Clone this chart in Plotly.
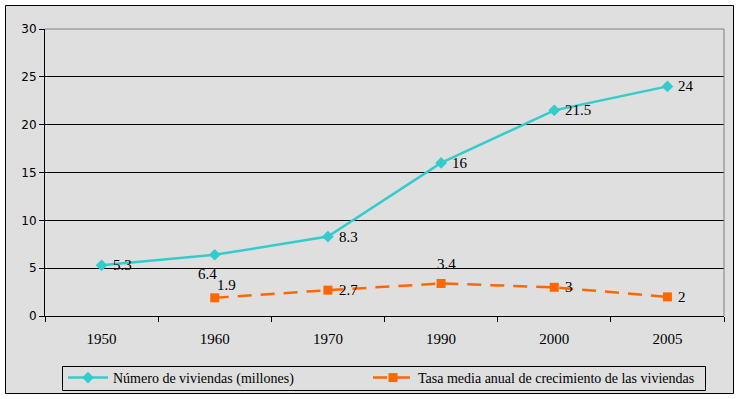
import plotly.graph_objects as go

years = ["1950", "1960", "1970", "1990", "2000", "2005"]
viviendas = [5.3, 6.4, 8.3, 16, 21.5, 24]
tasa = [None, 1.9, 2.7, 3.4, 3, 2]
y_ticks = [0, 5, 10, 15, 20, 25, 30]
name_v = "Número de viviendas (millones)"
name_t = "Tasa media anual de crecimiento de las viviendas"

# label placement (style): (xanchor, xshift, yshift) in px relative to the point
off_v = [("left", 9, 0), ("center", -7, -19), ("left", 9, 0),
         ("left", 9, 0), ("left", 9, 0), ("left", 9, 0)]
off_t = [None, ("left", 0, 13), ("left", 9, 0), ("center", 5, 19),
         ("left", 9, 0), ("left", 9, 0)]

W, H = 739, 399
L, R, T, B = 45, 724, 29, 316
pw, ph = R - L, B - T

def px(x):
    return (x - L) / pw

def py(y):
    return (B - y) / ph

CYAN = "#33cccc"
ORANGE = "#ff6600"
SERIF = "Liberation Serif"

fig = go.Figure()
fig.add_trace(go.Scatter(
    x=years, y=viviendas, name=name_v, mode="lines+markers",
    line=dict(color=CYAN, width=2.5),
    marker=dict(symbol="diamond", size=9, color=CYAN),
    legendwidth=250,
))
fig.add_trace(go.Scatter(
    x=years, y=tasa, name=name_t, mode="lines+markers",
    line=dict(color=ORANGE, width=2.5, dash="14px,9px"),
    marker=dict(symbol="square", size=9, color=ORANGE),
    connectgaps=False,
    legendwidth=282,
))

annotations = []
for vals, offs in ((viviendas, off_v), (tasa, off_t)):
    for i, (v, o) in enumerate(zip(vals, offs)):
        if v is None:
            continue
        annotations.append(dict(
            x=i, y=v, xref="x", yref="y", text=f"{v:g}", showarrow=False,
            xanchor=o[0], yanchor="middle", xshift=o[1], yshift=o[2],
            font=dict(family=SERIF, size=15, color="black"),
        ))

shapes = [
    dict(type="rect", xref="paper", yref="paper", layer="below",
         x0=px(5.5), x1=px(733.5), y0=py(393.5), y1=py(5.5),
         fillcolor="#dfdfdf", line=dict(color="black", width=1)),
    dict(type="rect", xref="paper", yref="paper", layer="below",
         x0=px(62.5), x1=px(705.5), y0=py(390.5), y1=py(366.5),
         line=dict(color="black", width=1)),
    dict(type="line", xref="paper", yref="paper", layer="above",
         x0=0, x1=1, y0=1, y1=1, line=dict(color="#808080", width=1)),
    dict(type="line", xref="paper", yref="paper", layer="above",
         x0=1, x1=1, y0=0, y1=1, line=dict(color="#808080", width=1)),
]

fig.update_layout(
    width=W, height=H,
    margin=dict(l=L, r=W - R, t=T, b=H - B, autoexpand=False),
    paper_bgcolor="white", plot_bgcolor="#dfdfdf",
    showlegend=True,
    legend=dict(
        orientation="h", x=px(63), y=py(378), xanchor="left", yanchor="middle",
        borderwidth=0, bgcolor="rgba(0,0,0,0)", itemwidth=40,
        font=dict(family=SERIF, size=14, color="black"),
        itemclick=False,
    ),
    annotations=annotations,
    shapes=shapes,
    xaxis=dict(
        type="category", range=[-0.5, 5.5], tickson="boundaries",
        ticks="outside", ticklen=5, tickcolor="black",
        showline=True, linecolor="black", linewidth=1,
        showgrid=False, zeroline=False,
        tickfont=dict(family=SERIF, size=15, color="black"),
        ticklabelstandoff=9,
    ),
    yaxis=dict(
        range=[0, 30], tickvals=y_ticks, ticks="outside", ticklen=5,
        tickcolor="black", showline=True, linecolor="black", linewidth=1,
        showgrid=True, gridcolor="black", gridwidth=1, zeroline=False,
        tickfont=dict(family="DejaVu Sans", size=12, color="black"),
    ),
)

fig.write_html("out.html", config={"displayModeBar": False},
               post_script="document.body.style.margin='0';")
